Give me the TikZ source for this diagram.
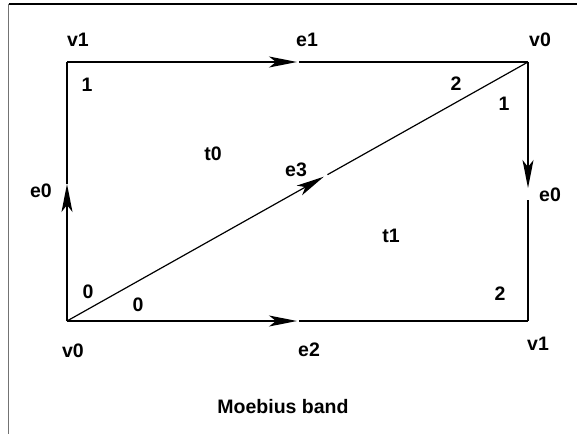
\documentclass[tikz,border=0pt]{standalone}
\usepackage{fontspec}
\setmainfont{Liberation Sans}
\usetikzlibrary{arrows.meta,calc}
\tikzset{
  edge/.style={line width=1.2pt, black},
  arr/.style={edge, -{Stealth[length=28pt, width=11pt, inset=7pt]}},
  lbl/.style={font=\fontsize{19.5}{21}\selectfont\bfseries, inner sep=0pt, anchor=center},
}
\begin{document}
\begin{tikzpicture}[x=1pt, y=-1pt]
  \useasboundingbox (0,0) rectangle (577,434);
  % frame
  \coordinate (fTL) at (8.5,4);
  \coordinate (fTR) at (577,4);
  \coordinate (fBL) at (8.5,434);
  \draw[line width=1.2pt] (fTL) -- (fTR);
  \draw[line width=1.4pt, black!55] (fTL) -- (fBL);

  % corners of the square
  \coordinate (A) at (67,62);   % top left  (v1)
  \coordinate (B) at (528,62);  % top right (v0)
  \coordinate (C) at (528,321); % bottom right (v1)
  \coordinate (D) at (67,321);  % bottom left (v0)

  % arrow tips and line restarts
  \coordinate (e1tip) at (297,62);   \coordinate (e1res) at (299,62);
  \coordinate (e2tip) at (297,321);  \coordinate (e2res) at (299,321);
  \coordinate (e0Ltip) at (67,184);
  \coordinate (e0Rtip) at (528,188); \coordinate (e0Rres) at (528,200);
  \coordinate (e3tip) at ($(D)!0.557!(B)$);
  \coordinate (e3res) at ($(D)!0.565!(B)$);

  % edges
  \draw[arr] (A) -- (e1tip);  \draw[edge] (e1res) -- (B);
  \draw[arr] (D) -- (e2tip);  \draw[edge] (e2res) -- (C);
  \draw[arr] (D) -- (e0Ltip); \draw[edge] (e0Ltip) -- (A);
  \draw[arr] (B) -- (e0Rtip); \draw[edge] (e0Rres) -- (C);
  \draw[arr] (D) -- (e3tip);  \draw[edge] (e3res) -- (B);

  % vertex labels
  \node[lbl] (lv1a) at (78,40) {v1};
  \node[lbl] (lv0a) at (540,40) {v0};
  \node[lbl] (lv0b) at (73,351) {v0};
  \node[lbl] (lv1b) at (538,344) {v1};
  % edge labels
  \node[lbl] (le1) at (307,40) {e1};
  \node[lbl] (le2) at (309,350) {e2};
  \node[lbl] (le0L) at (41,191) {e0};
  \node[lbl] (le0R) at (550,195) {e0};
  \node[lbl] (le3) at (296,170) {e3};
  % triangle labels
  \node[lbl] (lt0) at (213,154) {t0};
  \node[lbl] (lt1) at (391,236) {t1};
  % corner indices
  \node[lbl] (i1) at (87,85) {1};
  \node[lbl] (i2) at (456,84) {2};
  \node[lbl] (i3) at (504,104) {1};
  \node[lbl] (i4) at (88,292) {0};
  \node[lbl] (i5) at (138,305) {0};
  \node[lbl] (i6) at (500,294) {2};
  % caption
  \node[lbl] (cap) at (283,407) {Moebius band};
\end{tikzpicture}
\end{document}
